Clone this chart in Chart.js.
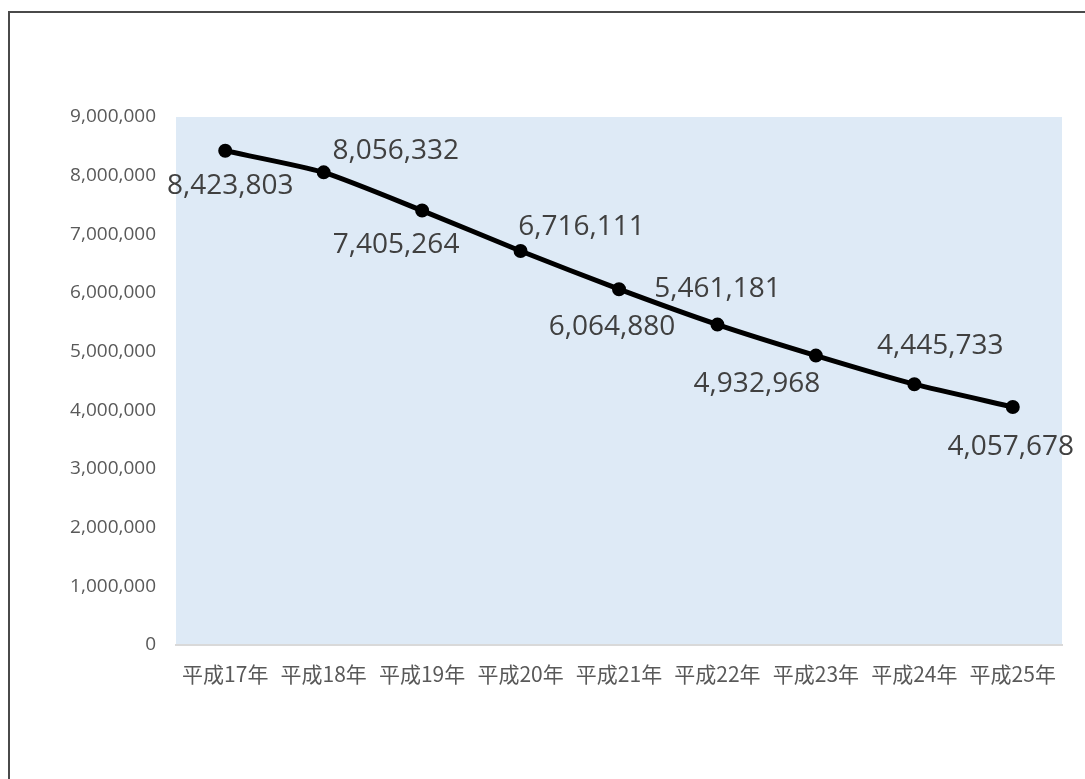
<!DOCTYPE html>
<html>
<head>
<meta charset="utf-8">
<script src="https://cdn.jsdelivr.net/npm/chart.js@4.4.1/dist/chart.umd.min.js"></script>
<style>
  html, body { margin: 0; padding: 0; background: #ffffff; }
  #wrap { position: relative; width: 1085px; height: 779px; }
</style>
</head>
<body>
<div id="wrap"><canvas id="lineChart" width="1085" height="779"></canvas></div>
<script>
// data
const years = ['平成17年', '平成18年', '平成19年', '平成20年', '平成21年', '平成22年', '平成23年', '平成24年', '平成25年'];
const counts = [8423803, 8056332, 7405264, 6716111, 6064880, 5461181, 4932968, 4445733, 4057678];
const yTicks = [0, 1000000, 2000000, 3000000, 4000000, 5000000, 6000000, 7000000, 8000000, 9000000];

// where each value label sits relative to its point (centre of text)
const labelShift = [[5, 35], [72, -21], [-26, 34], [61, -24], [-7, 38], [0, -36], [-59, 28], [26, -38], [-2, 40]];

const frame = {
    id: 'frame',
    beforeDraw(chart) {
        const ctx = chart.ctx;
        const a = chart.chartArea;
        ctx.save();
        ctx.fillStyle = '#ffffff';
        ctx.fillRect(0, 0, chart.width, chart.height);
        ctx.strokeStyle = '#4a4a4a';
        ctx.lineWidth = 2;
        ctx.strokeRect(9, 12, 3000, 3000);
        ctx.fillStyle = '#DEEAF6';
        ctx.fillRect(a.left, a.top, a.right - a.left, a.bottom - a.top);
        ctx.restore();
    }
};

const valueLabels = {
    id: 'valueLabels',
    afterDatasetsDraw(chart) {
        const ctx = chart.ctx;
        const meta = chart.getDatasetMeta(0);
        ctx.save();
        ctx.font = '28px "Open Sans", "Noto Sans", sans-serif';
        ctx.fillStyle = '#404040';
        ctx.textAlign = 'center';
        ctx.textBaseline = 'middle';
        meta.data.forEach((pt, i) => {
            const s = labelShift[i];
            ctx.fillText(counts[i].toLocaleString('en-US'), pt.x + s[0], pt.y + s[1]);
        });
        ctx.restore();
    }
};

let ctx = document.getElementById('lineChart').getContext('2d');
let chart = new Chart(ctx, {
    type: 'line',
    data: {
        labels: years,
        datasets: [{
            data: counts,
            borderColor: '#000000',
            backgroundColor: '#000000',
            borderWidth: 5,
            tension: 0.2,
            pointRadius: 6,
            pointBorderWidth: 2,
            pointBackgroundColor: '#000000',
            pointBorderColor: '#000000'
        }]
    },
    options: {
        responsive: false,
        animation: false,
        layout: { padding: { left: 0, right: 23, top: 117, bottom: 0 } },
        plugins: {
            legend: { display: false },
            tooltip: { enabled: false }
        },
        scales: {
            x: {
                offset: true,
                grid: { display: false, drawTicks: false },
                border: { display: true, color: '#D9D9D9', width: 2 },
                ticks: {
                    color: '#595959',
                    font: { family: '"Noto Sans CJK JP", "Noto Sans", sans-serif', size: 21 },
                    padding: 16,
                    maxRotation: 0,
                    autoSkip: false
                },
                afterFit: function (scale) { scale.height = 134; }
            },
            y: {
                min: 0,
                max: 9000000,
                grid: { display: false, drawTicks: false },
                border: { display: false },
                afterBuildTicks: function (scale) {
                    scale.ticks = yTicks.map(v => ({ value: v }));
                },
                ticks: {
                    color: '#595959',
                    font: { family: '"Open Sans", "Noto Sans", sans-serif', size: 19 },
                    padding: 20,
                    callback: v => v.toLocaleString('en-US')
                },
                afterFit: function (scale) { scale.width = 176; }
            }
        }
    },
    plugins: [frame, valueLabels]
});
</script>
</body>
</html>
